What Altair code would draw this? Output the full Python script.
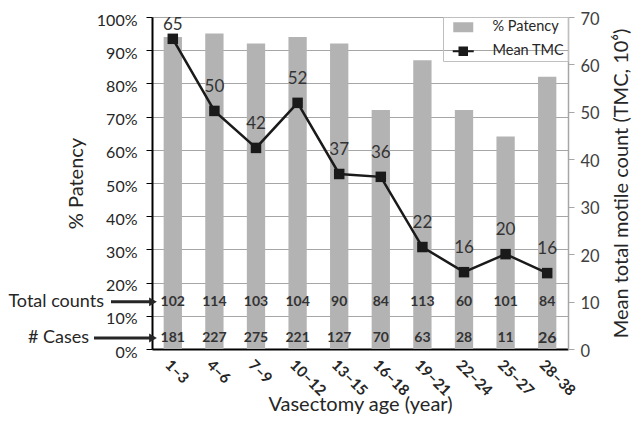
import altair as alt
import pandas as pd

age = ["1–3", "4–6", "7–9", "10–12", "13–15", "16–18", "19–21", "22–24", "25–27", "28–38"]
patency = [94, 95, 92, 94, 92, 72, 87, 72, 64, 82]
tmc = [65.4, 50.2, 42.4, 51.9, 36.9, 36.3, 21.5, 16.2, 20.0, 16.0]
tmc_label = [65, 50, 42, 52, 37, 36, 22, 16, 20, 16]
total_counts = [102, 114, 103, 104, 90, 84, 113, 60, 101, 84]
cases = [181, 227, 275, 221, 127, 70, 63, 28, 11, 26]
series = ["% Patency", "Mean TMC"]

df = pd.DataFrame({
    "age": age, "patency": patency, "tmc": tmc, "tmc_label": tmc_label,
    "total": total_counts, "cases": cases,
})

FONT = "Lato"
DARK = "#262626"

xenc = alt.X(
    "age:N", sort=age,
    scale=alt.Scale(paddingInner=0.56, paddingOuter=0.28),
    axis=alt.Axis(
        title="Vasectomy age (year)", labelAngle=45, labelFontWeight="bold",
        labelFontSize=15, labelColor=DARK, labelFont=FONT, domainColor="black",
        domainWidth=2, ticks=False, labelPadding=8, titleFontSize=20,
        titleFont=FONT, titleFontWeight="normal", titleColor=DARK, titlePadding=-4,
    ),
)
xplain = alt.X("age:N", sort=age)

left_axis = alt.Axis(
    title="% Patency", values=list(range(0, 101, 10)),
    labelExpr="datum.value + '%'", grid=True, gridColor="#a6a6a6",
    domainColor="black", domainWidth=2, tickColor="black", tickSize=6,
    labelFontSize=16, labelFont=FONT, labelColor=DARK, labelPadding=9,
    labelOffset=3, titleFontSize=20, titleFont=FONT, titleFontWeight="normal",
    titleColor=DARK, titlePadding=10,
)
left_scale = alt.Scale(domain=[0, 100])


def yleft(val):
    return alt.Y(datum=val, type="quantitative", scale=left_scale, axis=left_axis)


base = alt.Chart(df)

bars = base.mark_bar(color="#b3b3b3").encode(
    x=xenc,
    y=alt.Y("patency:Q", scale=left_scale, axis=left_axis),
)

count_text = base.mark_text(font=FONT, fontWeight="bold", fontSize=14, color="#333333").encode(
    x=xplain, y=yleft(14.2), text="total:Q",
)
cases_text = base.mark_text(font=FONT, fontWeight="bold", color="#333333").encode(
    x=xplain, y=yleft(3.3), text="cases:Q",
    size=alt.condition(alt.datum.age == "28–38", alt.value(16), alt.value(14)),
)

one = pd.DataFrame({"k": [0]})


def annotation(label, yval, text_x, arrow_x0):
    t = alt.Chart(one).mark_text(font=FONT, fontSize=18, color=DARK, align="right").encode(
        x=alt.value(text_x), y=yleft(yval), text=alt.value(label),
    )
    r = alt.Chart(one).mark_rule(color=DARK, strokeWidth=3).encode(
        x=alt.value(arrow_x0), x2=alt.value(1), y=yleft(yval),
    )
    h = alt.Chart(one).mark_point(shape="triangle-right", filled=True, size=80, color=DARK, opacity=1).encode(
        x=alt.value(1), y=yleft(yval),
    )
    return [t, r, h]


left = alt.layer(
    bars, count_text, cases_text,
    *annotation("Total counts", 14.2, -48, -41),
    *annotation("# Cases", 3.3, -63, -58),
)

yright = alt.Y(
    "tmc:Q", scale=alt.Scale(domain=[0, 70]),
    axis=alt.Axis(
        orient="right", title="Mean total motile count (TMC, 10⁶)",
        values=list(range(0, 71, 10)), grid=False, domainColor="#a6a6a6",
        domainWidth=1.5, tickColor="#a6a6a6", tickSize=6, labelFontSize=16.5,
        labelFont=FONT, labelColor="#404040", labelPadding=6, labelOffset=2,
        titleFontSize=20, titleFont=FONT, titleFontWeight="normal", titleColor=DARK,
        titlePadding=12, titleAngle=270, titleBaseline="top",
    ),
)

line = base.mark_line(color="#1a1a1a", strokeWidth=2.5).encode(x=xplain, y=yright)
pts = base.mark_point(shape="square", filled=True, size=110, color="#1a1a1a", opacity=1).encode(
    x=xplain, y="tmc:Q"
)
labels_hi = base.mark_text(font=FONT, fontSize=17, color="#333333", dy=-14).encode(
    x=xplain, y="tmc:Q", text="tmc_label:Q",
).transform_filter(alt.datum.tmc > 60)
labels_lo = base.mark_text(font=FONT, fontSize=17, color="#333333", dy=-24).encode(
    x=xplain, y="tmc:Q", text="tmc_label:Q",
).transform_filter(alt.datum.tmc <= 60)
right = alt.layer(line, pts, labels_hi, labels_lo)

leg_df = pd.DataFrame({"series": series})
leg = alt.Legend(
    title=None, orient="top-right", offset=0, symbolOpacity=1, symbolSize=100,
    labelFontSize=14.5, labelFont=FONT, labelColor=DARK, strokeColor="#bfbfbf",
    padding=3, rowPadding=9, symbolOffset=10, labelOffset=22, symbolStrokeWidth=0,
)
legend_layer = alt.Chart(leg_df).mark_point(filled=True, opacity=0).encode(
    color=alt.Color("series:N", scale=alt.Scale(domain=series, range=["#b3b3b3", "#1a1a1a"]), legend=leg),
    shape=alt.Shape(
        "series:N",
        scale=alt.Scale(domain=series, range=[
            "M-2,-1H2V1H-2Z",
            "M-2.1,-0.22H2.1V0.22H-2.1Z M-0.95,-0.95H0.95V0.95H-0.95Z",
        ]),
        legend=leg,
    ),
)

chart = alt.layer(left, right, legend_layer).resolve_scale(y="independent").properties(
    width=416, height=332,
).configure_view(stroke="black", strokeWidth=1.5).configure(
    padding={"left": 0, "top": 3, "right": 0, "bottom": 0}, background="white",
)

chart.save("out.html", embed_options={"renderer": "svg", "actions": False})
